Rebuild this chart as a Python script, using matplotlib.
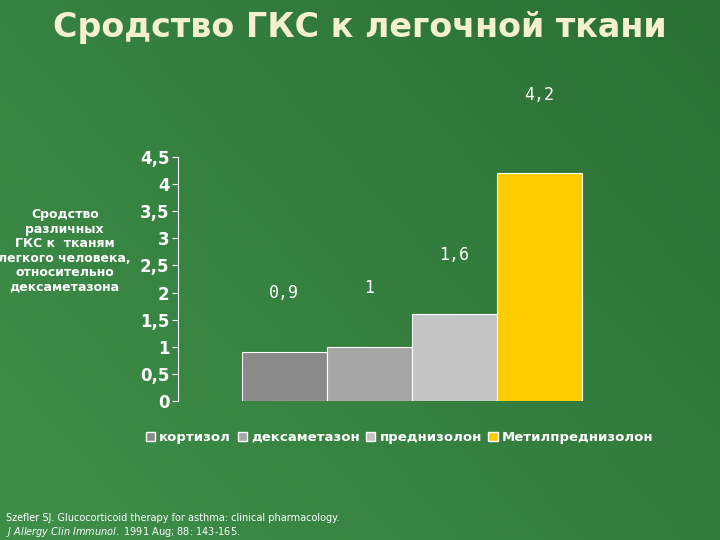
import numpy as np
import matplotlib.pyplot as plt
from matplotlib.patches import Patch

names = ['кортизол', 'дексаметазон', 'преднизолон', 'Метилпреднизолон']
values = [0.9, 1.0, 1.6, 4.2]
labels = ['0,9', '1', '1,6', '4,2']
colors = ['#8a8a8a', '#a6a6a6', '#c4c4c4', '#ffcc00']
yticks = [0, 0.5, 1, 1.5, 2, 2.5, 3, 3.5, 4, 4.5]
ytick_labels = ['0', '0,5', '1', '1,5', '2', '2,5', '3', '3,5', '4', '4,5']

fig = plt.figure(figsize=(7.2, 5.4), dpi=100)

# background gradient
bg = fig.add_axes([0, 0, 1, 1])
gx, gy = np.meshgrid(np.linspace(0, 1, 200), np.linspace(0, 1, 200))
grad = 0.6 * gx + 0.4 * (1 - gy)
bg.imshow(grad, cmap=plt.matplotlib.colors.LinearSegmentedColormap.from_list(
    'g', ['#3f8f4a', '#2a7034']), aspect='auto', extent=[0, 1, 0, 1])
bg.axis('off')

ax = fig.add_axes([0.247, 0.2574, 0.653, 0.452])
ax.patch.set_alpha(0)
x = np.arange(len(values))
ax.bar(x, values, width=1.0, color=colors, edgecolor='white', linewidth=0.8)
for xi, v, lab in zip(x, values, labels):
    ax.annotate(lab, (xi, v), xytext=(0, 36 if v < 4 else 50), textcoords='offset points',
                ha='center', va='bottom', color='white', fontsize=12,
                family='DejaVu Sans Mono', annotation_clip=False)

ax.set_xlim(-1.25, 4.28)
ax.set_ylim(0, 4.5)
ax.set_yticks(yticks)
ax.set_yticklabels(ytick_labels, color='white', fontsize=12, fontweight='bold')
ax.tick_params(axis='y', colors='white', length=4, pad=2, labelcolor='white')
ax.set_xticks([])
for s in ['top', 'right', 'bottom']:
    ax.spines[s].set_visible(False)
ax.spines['left'].set_color('white')

fig.text(0.09, 0.535, 'Сродство\nразличных\nГКС к  тканям\nлегкого человека,\nотносительно\nдексаметазона',
         ha='center', va='center', color='white', fontsize=9, fontweight='bold', linespacing=1.15)

fig.text(0.5, 0.95, 'Сродство ГКС к легочной ткани', ha='center', va='center',
         color='#f4f0d0', fontsize=24, fontweight='bold')

handles = [Patch(facecolor=c, edgecolor='white') for c in colors]
leg = fig.legend(handles, names, loc='center', bbox_to_anchor=(0.555, 0.19), ncol=4,
                 frameon=False, handlelength=0.7, handleheight=0.7, handletextpad=0.3,
                 columnspacing=0.5, prop={'weight': 'bold', 'size': 9.5})
for t in leg.get_texts():
    t.set_color('white')

fig.text(0.008, 0.04, 'Szefler SJ. Glucocorticoid therapy for asthma: clinical pharmacology.',
         color='white', fontsize=7, va='center')
fig.text(0.008, 0.015, '$\\it{J\\ Allergy\\ Clin\\ Immunol.}$ 1991 Aug; 88: 143-165.',
         color='white', fontsize=7, va='center')

fig.savefig('out.png', dpi=100)
